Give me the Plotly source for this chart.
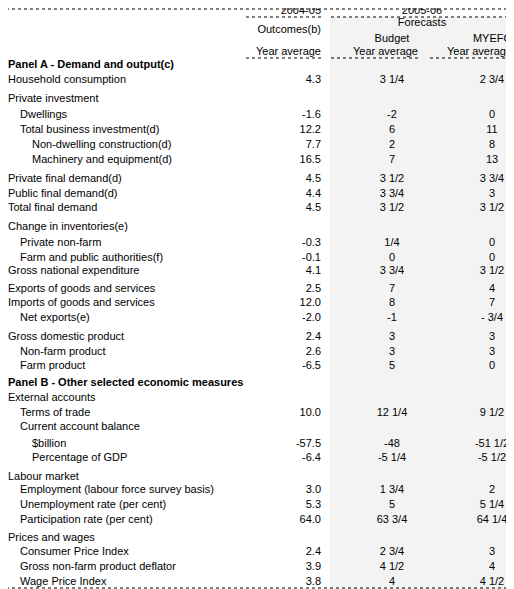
import plotly.graph_objects as go

labels = ["Panel A - Demand and output(c)","Household consumption","Private investment","Dwellings",
"Total business investment(d)","Non-dwelling construction(d)","Machinery and equipment(d)",
"Private final demand(d)","Public final demand(d)","Total final demand","Change in inventories(e)",
"Private non-farm","Farm and public authorities(f)","Gross national expenditure",
"Exports of goods and services","Imports of goods and services","Net exports(e)",
"Gross domestic product","Non-farm product","Farm product",
"Panel B - Other selected economic measures","External accounts","Terms of trade",
"Current account balance","$billion","Percentage of GDP","Labour market",
"Employment (labour force survey basis)","Unemployment rate (per cent)","Participation rate (per cent)",
"Prices and wages","Consumer Price Index","Gross non-farm product deflator","Wage Price Index"]
indent = [0,0,0,1,1,2,2,0,0,0,0,1,1,0,0,0,1,0,1,1,0,0,1,1,2,2,0,1,1,1,0,1,1,1]
bold = [1]+[0]*19+[1]+[0]*13
outcomes = ["","4.3","","-1.6","12.2","7.7","16.5","4.5","4.4","4.5","","-0.3","-0.1","4.1","2.5","12.0","-2.0",
"2.4","2.6","-6.5","","","10.0","","-57.5","-6.4","","3.0","5.3","64.0","","2.4","3.9","3.8"]
budget = ["","3 1/4","","-2","6","2","7","3 1/2","3 3/4","3 1/2","","1/4","0","3 3/4","7","8","-1",
"3","3","5","","","12 1/4","","-48","-5 1/4","","1 3/4","5","63 3/4","","2 3/4","4 1/2","4"]
myefo = ["","2 3/4","","0","11","8","13","3 3/4","3","3 1/2","","0","0","3 1/2","4","7","- 3/4",
"3","3","0","","","9 1/2","","-51 1/2","-5 1/2","","2","5 1/4","64 1/4","","3","4","4 1/2"]
row_y = [65,80,99,115,130,145,160,179,194,208,227,243,258,271,289,303,318,337,352,366,
383,398,413,427,444,458,477,490,505,520,538,552,567,582]

F = "Liberation Sans, Arial, sans-serif"
fig = go.Figure()
fig.add_shape(type="rect", x0=330, x1=514, y0=17, y1=589, fillcolor="#f3f3f3", line_width=0, layer="below")
for x0,x1,y in [(0,514,9),(246,322,17),(331,514,17),(246,322,58),(331,420,58),(430,514,58),(0,514,588)]:
    fig.add_shape(type="line", x0=x0, x1=x1, y0=y, y1=y, line=dict(color="black", width=1, dash="dot"))

for b in (0,1):
    for lvl in (0,1,2):
        idx=[i for i in range(len(labels)) if bold[i]==b and indent[i]==lvl]
        if not idx: continue
        fig.add_trace(go.Scatter(x=[8+12*lvl]*len(idx), y=[row_y[i] for i in idx],
            text=[f"<b>{labels[i]}</b>" if b else labels[i] for i in idx], mode="text", cliponaxis=False,
            textposition="middle right", textfont=dict(family=F,size=11,color="black"), hoverinfo="skip"))
fig.add_trace(go.Scatter(x=[321]*len(row_y), y=row_y, text=outcomes, mode="text", textposition="middle left",
    textfont=dict(family=F,size=11,color="black"), cliponaxis=False))
fig.add_trace(go.Scatter(x=[392]*len(row_y), y=row_y, text=budget, mode="text", textposition="middle center",
    textfont=dict(family=F,size=11,color="black"), cliponaxis=False))
fig.add_trace(go.Scatter(x=[492]*len(row_y), y=row_y, text=myefo, mode="text", textposition="middle center",
    textfont=dict(family=F,size=11,color="black"), cliponaxis=False))

hdr = [(321,11,"2004-05","left"),(422,11,"2005-06","center"),(321,30,"Outcomes(b)","left"),
       (422,23,"Forecasts","center"),(392,39,"Budget","center"),(512,39,"MYEFO","left"),
       (321,52,"Year average","left"),(418,52,"Year average","left"),(512,52,"Year average","left")]
for x,y,t,a in hdr:
    fig.add_trace(go.Scatter(x=[x],y=[y],text=[t],mode="text", cliponaxis=False,
        textposition={"left":"middle left","center":"middle center"}[a],
        textfont=dict(family=F,size=11,color="black")))

fig.update_layout(width=506, height=581, margin=dict(l=0,r=0,t=0,b=0), showlegend=False,
    plot_bgcolor="white", paper_bgcolor="white",
    xaxis=dict(range=[8,514], visible=False, fixedrange=True),
    yaxis=dict(range=[589,8], visible=False, fixedrange=True))
fig.write_html("out.html")
